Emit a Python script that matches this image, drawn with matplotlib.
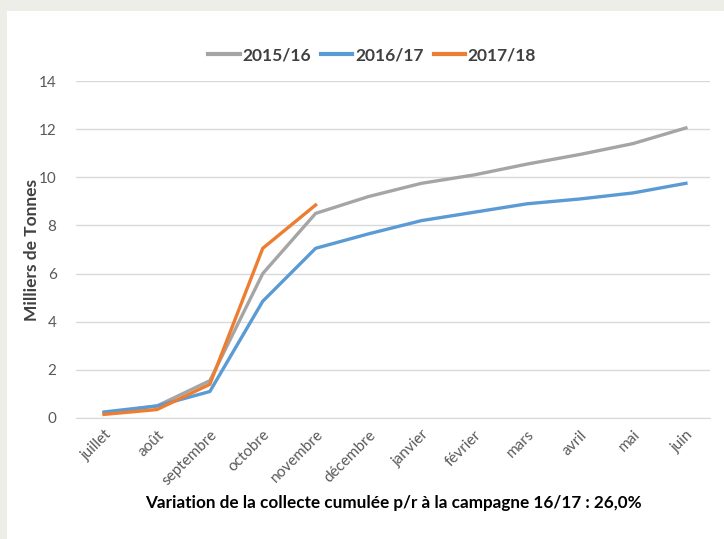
import matplotlib.pyplot as plt
from matplotlib.patches import Rectangle

plt.rcParams['font.family'] = ['Lato', 'DejaVu Sans']

# months of the campaign
mois = ["juillet", "août", "septembre", "octobre", "novembre", "décembre",
        "janvier", "février", "mars", "avril", "mai", "juin"]

# cumulated collection, thousands of tonnes
c1516 = [0.2, 0.5, 1.55, 6.0, 8.5, 9.2, 9.75, 10.1, 10.55, 10.95, 11.4, 12.05]
c1617 = [0.25, 0.5, 1.1, 4.85, 7.05, 7.65, 8.2, 8.55, 8.9, 9.1, 9.35, 9.75]
c1718 = [0.15, 0.35, 1.4, 7.05, 8.85]

fig = plt.figure(figsize=(7.24, 5.39), dpi=100)
fig.patch.set_facecolor("#eeeee9")
# white panel
fig.add_artist(Rectangle((7 / 724, 0), 1, 1 - 11 / 539, transform=fig.transFigure,
                         facecolor="white", edgecolor="none", zorder=0))

ax = fig.add_axes([0.105, 0.2245, 0.876, 0.6252])
ax.set_facecolor("none")

x = range(len(mois))
ax.plot(x, c1516, color="#a5a5a5", lw=2.4, label="2015/16")
ax.plot(x, c1617, color="#5b9bd5", lw=2.4, label="2016/17")
ax.plot(range(len(c1718)), c1718, color="#ed7d31", lw=2.4, label="2017/18")

ax.set_ylim(0, 14)
ax.set_xlim(-0.53, 11.46)
ax.set_yticks(range(0, 15, 2))
ax.yaxis.grid(True, color="#d9d9d9", lw=1)
ax.set_axisbelow(True)
for s in ["top", "right", "left"]:
    ax.spines[s].set_visible(False)
ax.spines["bottom"].set_color("#d9d9d9")
ax.tick_params(length=0, colors="#595959", labelsize=11)
ax.tick_params(axis="y", pad=14)
ax.set_xticks(list(x))
ax.set_xticklabels(mois, rotation=45, ha="right", rotation_mode="anchor")
ax.tick_params(axis="x", pad=7, labelsize=11)

ax.set_ylabel("Milliers de Tonnes", fontsize=12.5, fontweight="bold", color="#404040")
ax.yaxis.set_label_coords(-0.057, 0.5)

leg = ax.legend(loc="center", bbox_to_anchor=(0.467, 1.077), ncol=3, frameon=False,
                handlelength=1.8, handletextpad=0.15, columnspacing=0.6,
                prop={"weight": "bold", "size": 12.5})
for t in leg.get_texts():
    t.set_color("#404040")
for h in leg.get_lines():
    h.set_linewidth(3)

fig.text(0.543, 0.067, "Variation de la collecte cumulée p/r à la campagne 16/17 : 26,0%",
         ha="center", va="center", fontsize=12.3, fontweight="bold", color="black")

fig.savefig("out.png", dpi=100, facecolor=fig.get_facecolor())
